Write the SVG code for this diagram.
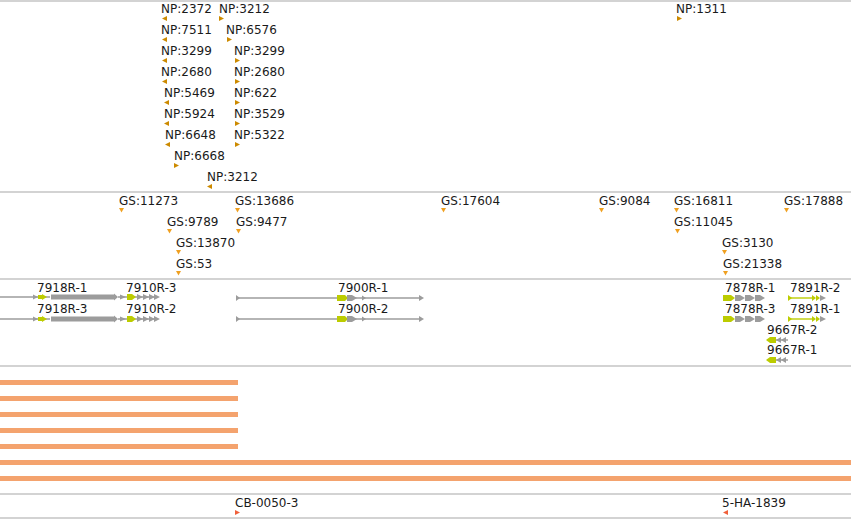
<svg xmlns="http://www.w3.org/2000/svg" width="851" height="519" viewBox="0 0 851 519">
<style>
text{font-family:"DejaVu Sans","Liberation Sans",sans-serif;font-size:12px;fill:#1a1a1a}
.sep{stroke:#c4c4c4;stroke-width:1.5}
.np{fill:#cc8a00}
.gs{fill:#f0a020}
.cb{fill:#f0603a}
.g{fill:#9c9c9c}
.y{fill:#bccc00}
.gl{stroke:#9c9c9c;stroke-width:1.4;fill:none}
.yl{stroke:#bccc00;stroke-width:1.4;fill:none}
.bar{fill:#f4a36e}
</style>
<g id="separators">
<line class="sep" x1="0" y1="1" x2="851" y2="1"/>
<line class="sep" x1="0" y1="192" x2="851" y2="192"/>
<line class="sep" x1="0" y1="279" x2="851" y2="279"/>
<line class="sep" x1="0" y1="366" x2="851" y2="366"/>
<line class="sep" x1="0" y1="494" x2="851" y2="494"/>
<line class="sep" x1="0" y1="518" x2="851" y2="518"/>
</g>
<g id="np-track">
<g id="np2372"><text x="161" y="13">NP:2372</text><polygon class="np" points="162,18.5 167,16 167,21"/></g>
<g id="np3212a"><text x="219" y="13">NP:3212</text><polygon class="np" points="219,16 224,18.5 219,21"/></g>
<g id="np7511"><text x="161" y="34">NP:7511</text><polygon class="np" points="162,39.5 167,37 167,42"/></g>
<g id="np6576"><text x="226" y="34">NP:6576</text><polygon class="np" points="227,37 232,39.5 227,42"/></g>
<g id="np3299a"><text x="161" y="55">NP:3299</text><polygon class="np" points="162,60.5 167,58 167,63"/></g>
<g id="np3299b"><text x="234" y="55">NP:3299</text><polygon class="np" points="235,58 240,60.5 235,63"/></g>
<g id="np2680a"><text x="161" y="76">NP:2680</text><polygon class="np" points="162,81.5 167,79 167,84"/></g>
<g id="np2680b"><text x="234" y="76">NP:2680</text><polygon class="np" points="235,79 240,81.5 235,84"/></g>
<g id="np5469"><text x="164" y="97">NP:5469</text><polygon class="np" points="164,102.5 169,100 169,105"/></g>
<g id="np622"><text x="234" y="97">NP:622</text><polygon class="np" points="235,100 240,102.5 235,105"/></g>
<g id="np5924"><text x="164" y="118">NP:5924</text><polygon class="np" points="164,123.5 169,121 169,126"/></g>
<g id="np3529"><text x="234" y="118">NP:3529</text><polygon class="np" points="235,121 240,123.5 235,126"/></g>
<g id="np6648"><text x="165" y="139">NP:6648</text><polygon class="np" points="165,144.5 170,142 170,147"/></g>
<g id="np5322"><text x="234" y="139">NP:5322</text><polygon class="np" points="235,142 240,144.5 235,147"/></g>
<g id="np6668"><text x="174" y="160">NP:6668</text><polygon class="np" points="174,163 179,165.5 174,168"/></g>
<g id="np3212b"><text x="207" y="181">NP:3212</text><polygon class="np" points="207,186.5 212,184 212,189"/></g>
<g id="np1311"><text x="676" y="13">NP:1311</text><polygon class="np" points="677,16 682,18.5 677,21"/></g>
</g>
<g id="gs-track">
<g id="gs11273"><text x="119" y="205">GS:11273</text><polygon class="gs" points="119,208 124,208 121.5,212.5"/></g>
<g id="gs13686"><text x="235" y="205">GS:13686</text><polygon class="gs" points="235,208 240,208 237.5,212.5"/></g>
<g id="gs9789"><text x="167" y="226">GS:9789</text><polygon class="gs" points="167,229 172,229 169.5,233.5"/></g>
<g id="gs9477"><text x="236" y="226">GS:9477</text><polygon class="gs" points="236,229 241,229 238.5,233.5"/></g>
<g id="gs13870"><text x="176" y="247">GS:13870</text><polygon class="gs" points="176,250 181,250 178.5,254.5"/></g>
<g id="gs53"><text x="176" y="268">GS:53</text><polygon class="gs" points="176,271 181,271 178.5,275.5"/></g>
<g id="gs17604"><text x="441" y="205">GS:17604</text><polygon class="gs" points="441,208 446,208 443.5,212.5"/></g>
<g id="gs9084"><text x="599" y="205">GS:9084</text><polygon class="gs" points="599,208 604,208 601.5,212.5"/></g>
<g id="gs16811"><text x="674" y="205">GS:16811</text><polygon class="gs" points="674,208 679,208 676.5,212.5"/></g>
<g id="gs11045"><text x="674" y="226">GS:11045</text><polygon class="gs" points="675,229 680,229 677.5,233.5"/></g>
<g id="gs17888"><text x="784" y="205">GS:17888</text><polygon class="gs" points="784,208 789,208 786.5,212.5"/></g>
<g id="gs3130"><text x="722" y="247">GS:3130</text><polygon class="gs" points="722,250 727,250 724.5,254.5"/></g>
<g id="gs21338"><text x="723" y="268">GS:21338</text><polygon class="gs" points="723,271 728,271 725.5,275.5"/></g>
</g>
<g id="gene-track">
<g id="t7918R-1">
<text x="37" y="292">7918R-1</text>
<line class="gl" x1="0" y1="297" x2="50" y2="297"/>
<polygon class="g" points="33,294.5 38,297 33,299.5"/>
<polygon class="y" points="38,295 42,295 42,294 47,297 42,300 42,299 38,299"/>
<polygon class="g" points="51,294.5 114,294.5 114,293.5 118,297 114,300.5 114,299.5 51,299.5"/>
</g>
<g id="t7918R-3">
<text x="37" y="313">7918R-3</text>
<line class="gl" x1="0" y1="319" x2="50" y2="319"/>
<polygon class="g" points="33,316.5 38,319 33,321.5"/>
<polygon class="y" points="38,317 42,317 42,316 47,319 42,322 42,321 38,321"/>
<polygon class="g" points="51,316.5 114,316.5 114,315.5 118,319 114,322.5 114,321.5 51,321.5"/>
</g>
<g id="t7910R-3">
<text x="126" y="292">7910R-3</text>
<line class="gl" x1="118" y1="297" x2="158" y2="297"/>
<polygon class="g" points="120,294.5 126,297 120,299.5"/>
<polygon class="y" points="127,294 132,294 136,297 132,300 127,300"/>
<polygon class="g" points="137,294 143,297 137,300"/>
<polygon class="g" points="143,294 149,297 143,300"/>
<polygon class="g" points="149,294 155,297 149,300"/>
<polygon class="g" points="154,294 160,297 154,300"/>
</g>
<g id="t7910R-2">
<text x="126" y="313">7910R-2</text>
<line class="gl" x1="118" y1="319" x2="158" y2="319"/>
<polygon class="g" points="120,316.5 126,319 120,321.5"/>
<polygon class="y" points="127,316 132,316 136,319 132,322 127,322"/>
<polygon class="g" points="137,316 143,319 137,322"/>
<polygon class="g" points="143,316 149,319 143,322"/>
<polygon class="g" points="149,316 155,319 149,322"/>
<polygon class="g" points="154,316 160,319 154,322"/>
</g>
<g id="t7900R-1">
<text x="338" y="292">7900R-1</text>
<line class="gl" x1="236" y1="298" x2="421" y2="298"/>
<polygon class="g" points="236,295 240,298 236,301"/>
<polygon class="y" points="337,295 345,295 348,298 345,301 337,301"/>
<polygon class="g" points="347,295 352,295 357,298 352,301 347,301"/>
<polygon class="g" points="362,295.5 366,298 362,300.5"/>
<polygon class="g" points="419,295 424,298 419,301"/>
</g>
<g id="t7900R-2">
<text x="338" y="313">7900R-2</text>
<line class="gl" x1="236" y1="319" x2="421" y2="319"/>
<polygon class="g" points="236,316 240,319 236,322"/>
<polygon class="y" points="337,316 345,316 348,319 345,322 337,322"/>
<polygon class="g" points="347,316 352,316 357,319 352,322 347,322"/>
<polygon class="g" points="362,316.5 366,319 362,321.5"/>
<polygon class="g" points="419,316 424,319 419,322"/>
</g>
<g id="t7878R-1">
<text x="725" y="292">7878R-1</text>
<polygon class="y" points="723,295 731,295 735,298 731,301 723,301"/>
<polygon class="g" points="735,295 740,295 745,298 740,301 735,301"/>
<polygon class="g" points="745,295 750,295 755,298 750,301 745,301"/>
<polygon class="g" points="755,295 760,295 765,298 760,301 755,301"/>
</g>
<g id="t7878R-3">
<text x="725" y="313">7878R-3</text>
<polygon class="y" points="723,316 731,316 735,319 731,322 723,322"/>
<polygon class="g" points="735,316 740,316 745,319 740,322 735,322"/>
<polygon class="g" points="745,316 750,316 755,319 750,322 745,322"/>
<polygon class="g" points="755,316 760,316 765,319 760,322 755,322"/>
</g>
<g id="t7891R-2">
<text x="790" y="292">7891R-2</text>
<line class="yl" x1="788" y1="298" x2="813" y2="298"/>
<polygon class="y" points="788,295 792,298 788,301"/>
<polygon class="y" points="812,295 816,298 812,301"/>
<polygon class="y" points="816,295 820,298 816,301"/>
<polygon class="g" points="820,295 826,298 820,301"/>
</g>
<g id="t7891R-1">
<text x="790" y="313">7891R-1</text>
<line class="yl" x1="788" y1="319" x2="813" y2="319"/>
<polygon class="y" points="788,316 792,319 788,322"/>
<polygon class="y" points="812,316 816,319 812,322"/>
<polygon class="y" points="816,316 820,319 816,322"/>
<polygon class="g" points="820,316 826,319 820,322"/>
</g>
<g id="t9667R-2">
<text x="767" y="334">9667R-2</text>
<polygon class="y" points="766,340 770,337 776,337 776,343 770,343"/>
<polygon class="g" points="776,340 781,337 781,343"/>
<polygon class="g" points="781,340 786,337 786,343"/>
<line class="gl" x1="776" y1="340" x2="788" y2="340"/>
</g>
<g id="t9667R-1">
<text x="767" y="354">9667R-1</text>
<polygon class="y" points="766,360 770,357 776,357 776,363 770,363"/>
<polygon class="g" points="776,360 781,357 781,363"/>
<polygon class="g" points="781,360 786,357 786,363"/>
<line class="gl" x1="776" y1="360" x2="788" y2="360"/>
</g>
</g>
<g id="bars">
<rect class="bar" x="0" y="380" width="238" height="5"/>
<rect class="bar" x="0" y="396" width="238" height="5"/>
<rect class="bar" x="0" y="412" width="238" height="5"/>
<rect class="bar" x="0" y="428" width="238" height="5"/>
<rect class="bar" x="0" y="444" width="238" height="5"/>
<rect class="bar" x="0" y="460" width="851" height="5"/>
<rect class="bar" x="0" y="476" width="851" height="5"/>
</g>
<g id="cb-track">
<g id="cb0050"><text x="235" y="507">CB-0050-3</text><polygon class="cb" points="235,510 240,512.5 235,515"/></g>
<g id="ha1839"><text x="722" y="507">5-HA-1839</text><polygon class="cb" points="723,512.5 728,510 728,515"/></g>
</g>
</svg>
